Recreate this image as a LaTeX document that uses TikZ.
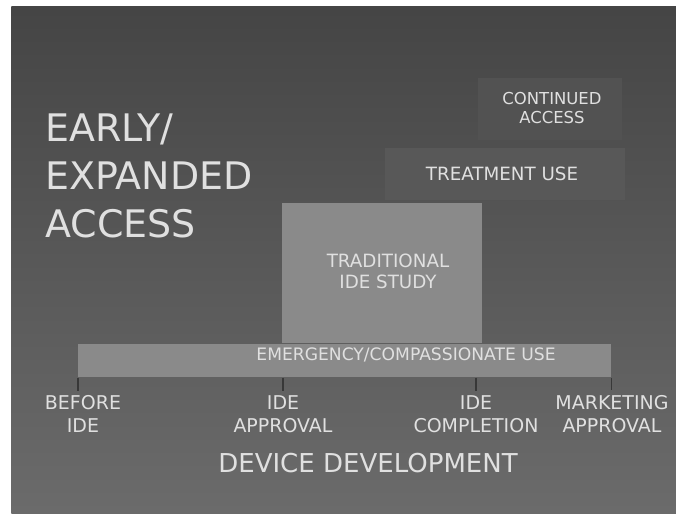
\documentclass[tikz,border=0pt]{standalone}
\usepackage{fontspec}
\setmainfont{DejaVu Sans}
\tikzset{
	slide/.style={draw=black!85, line width=0.6pt, top color=black!73, bottom color=black!58},
	panel/.style={rectangle, inner sep=0pt, draw=none},
	greybox/.style={panel, fill=black!46},
	txt/.style={text=white!88!black, align=center, inner sep=0pt},
	milestone/.style={txt, font=\fontsize{13.5}{16}\selectfont, inner sep=0.12cm},
	tick/.style={draw=black!78, line width=1.2pt},
}

\begin{document}
\begin{tikzpicture}
\useasboundingbox (0,0) rectangle (16.9,13);
\fill[white] (0,0) rectangle (16.9,13);

% slide background
\node [slide, panel, anchor=south west, minimum width=16.625cm, minimum height=12.675cm] (bg) at (0.275,0.15) {};

% faint boxes in the upper right
\node [panel, fill=black!68, anchor=north west, minimum width=3.6cm, minimum height=1.55cm] (cbox) at (11.95,11.05) {};
\node [panel, fill=black!65.5, anchor=north west, minimum width=6cm, minimum height=1.3cm] (tbox) at (9.625,9.3) {};

% study block and the long bar
\node [greybox, anchor=north west, minimum width=5cm, minimum height=3.5cm] (study) at (7.05,7.925) {};
\node [greybox, anchor=north west, minimum width=13.325cm, minimum height=0.825cm] (bar) at (1.95,4.4) {};

\node [txt, font=\fontsize{27}{34}\selectfont, align=left, anchor=west] (early) at (1.125,8.6) {EARLY/\\EXPANDED\\ACCESS};
\node [txt, font=\fontsize{11.7}{14}\selectfont] (cont) at (13.8,10.3) {CONTINUED\\ACCESS};
\node [txt, font=\fontsize{13}{15}\selectfont] (treat) at (12.55,8.65) {TREATMENT USE};
\node [txt, font=\fontsize{13}{15}\selectfont] (trad) at (9.7,6.225) {TRADITIONAL\\IDE STUDY};
\node [txt, font=\fontsize{12.2}{14}\selectfont] (emerg) at (10.15,4.125) {EMERGENCY/COMPASSIONATE USE};

% milestones
\node [milestone] (before) at (2.075,2.65) {BEFORE\\IDE};
\node [milestone] (approval) at (7.075,2.65) {IDE\\APPROVAL};
\node [milestone] (completion) at (11.9,2.65) {IDE\\COMPLETION};
\node [milestone] (market) at (15.3,2.65) {MARKETING\\APPROVAL};

\draw [tick] (bar.south west) -- (bar.south west |- before.north);
\draw [tick] (bar.south -| approval) -- (approval.north);
\draw [tick] (bar.south -| completion) -- (completion.north);
\draw [tick] (bar.south east) -- (bar.south east |- market.north);

\node [txt, font=\fontsize{18.5}{22}\selectfont] (device) at (9.2,1.425) {DEVICE DEVELOPMENT};
\end{tikzpicture}
\end{document}
